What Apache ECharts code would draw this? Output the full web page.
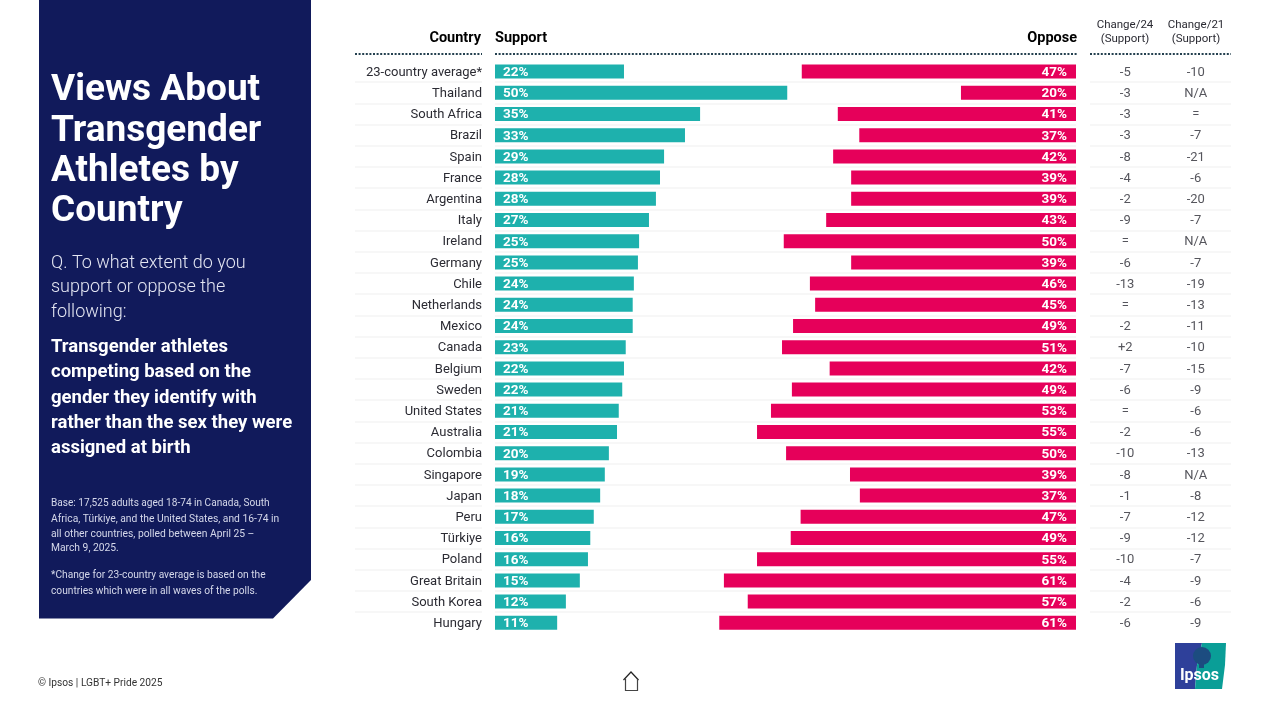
<!DOCTYPE html>
<html>
<head>
<meta charset="utf-8">
<style>html,body{margin:0;padding:0;background:#fff}#chart{width:1264px;height:706px}</style>
<script src="https://cdn.jsdelivr.net/npm/echarts@6/dist/echarts.min.js"></script>
</head>
<body>
<div id="chart"></div>
<script>
var countries = ['23-country average*','Thailand','South Africa','Brazil','Spain','France','Argentina','Italy','Ireland','Germany','Chile','Netherlands','Mexico','Canada','Belgium','Sweden','United States','Australia','Colombia','Singapore','Japan','Peru','Türkiye','Poland','Great Britain','South Korea','Hungary'];
// bar lengths, the printed labels are these rounded
var support = [22.2,50.3,35.3,32.7,29.1,28.4,27.7,26.5,24.8,24.6,23.9,23.7,23.7,22.5,22.2,21.9,21.3,21,19.6,18.9,18.1,17,16.4,16,14.6,12.2,10.7];
var oppose = [47.2,19.8,41,37.3,41.8,38.7,38.7,43,50.3,38.7,45.8,44.9,48.7,50.6,42.4,48.9,52.5,54.9,49.9,38.9,37.2,47.4,49.1,54.9,60.6,56.5,61.4];
var change24 = ['-5','-3','-3','-3','-8','-4','-2','-9','=','-6','-13','=','-2','+2','-7','-6','=','-2','-10','-8','-1','-7','-9','-10','-4','-2','-6'];
var change21 = ['-10','N/A','=','-7','-21','-6','-20','-7','N/A','-7','-19','-13','-11','-10','-15','-9','-6','-6','-13','N/A','-8','-12','-12','-7','-9','-6','-9'];
var changeCols = ['Change/24','Change/21'];

var FONT = 'Roboto';
var NAVY = '#111a5b';
var TEAL = '#1eb1ad';
var RED = '#e6005a';
var TOP = 61, ROWS_H = 572.4;

var mychart = echarts.init(document.getElementById('chart'));

function rowAxis(gridIndex, extra) {
    return Object.assign({
        type: 'category',
        gridIndex: gridIndex,
        data: countries,
        inverse: true,
        axisLine: {show: false},
        axisTick: {show: false},
        axisLabel: {show: false},
        splitLine: {show: true, showMinLine: false, showMaxLine: false, lineStyle: {color: '#f4f4f4', width: 1.5}}
    }, extra || {});
}
function hiddenValue(gridIndex, inverse) {
    return {type: 'value', gridIndex: gridIndex, min: 0, max: 100, inverse: inverse, show: false, splitLine: {show: false}};
}
function pct(p) {
    return Math.round(p.value) + '%';
}
function txt(x, y, s, size, color, weight, align) {
    return {type: 'text', x: x, y: y + 1, silent: true, style: {text: s, font: (weight || 400) + ' ' + size + 'px ' + FONT, fill: color, textAlign: align || 'left', textVerticalAlign: 'middle'}};
}
function dots(x1, x2) {
    return {type: 'line', silent: true, shape: {x1: x1, y1: 54, x2: x2, y2: 54}, style: {stroke: '#24404f', lineWidth: 2, lineDash: [2, 1.6]}};
}

var panelLines = [
    txt(51, 90, 'Views About', 37, '#fff', 700),
    txt(51, 131, 'Transgender', 37, '#fff', 700),
    txt(51, 171, 'Athletes by', 37, '#fff', 700),
    txt(51, 211, 'Country', 37, '#fff', 700),
    txt(51, 262, 'Q. To what extent do you', 18, '#e4e6f2', 300),
    txt(51, 286, 'support or oppose the', 18, '#e4e6f2', 300),
    txt(51, 311, 'following:', 18, '#e4e6f2', 300),
    txt(51, 346, 'Transgender athletes', 18.5, '#fff', 700),
    txt(51, 371, 'competing based on the', 18.5, '#fff', 700),
    txt(51, 397, 'gender they identify with', 18.5, '#fff', 700),
    txt(51, 422, 'rather than the sex they were', 18.5, '#fff', 700),
    txt(51, 447, 'assigned at birth', 18.5, '#fff', 700),
    txt(51, 502, 'Base: 17,525 adults aged 18-74 in Canada, South', 10.1, '#d5d8ea'),
    txt(51, 518, 'Africa, Türkiye, and the United States, and 16-74 in', 10.3, '#d5d8ea'),
    txt(51, 533, 'all other countries, polled between April 25 –', 10.3, '#d5d8ea'),
    txt(51, 547, 'March 9, 2025.', 10.3, '#d5d8ea'),
    txt(51, 574, '*Change for 23-country average is based on the', 10.2, '#d5d8ea'),
    txt(51, 590, 'countries which were in all waves of the polls.', 10.2, '#d5d8ea')
];

option = {
    backgroundColor: '#fff',
    animation: false,
    textStyle: {fontFamily: FONT},
    grid: [
        {left: 355, width: 127, top: TOP, height: ROWS_H},
        {left: 495, width: 581, top: TOP, height: ROWS_H},
        {left: 1090, width: 141, top: TOP, height: ROWS_H},
        // country names only, sits 1px lower than the separators
        {left: 355, width: 127, top: TOP + 1, height: ROWS_H}
    ],
    xAxis: [
        hiddenValue(0, false),
        hiddenValue(1, false),
        hiddenValue(1, true),
        {type: 'category', gridIndex: 2, data: changeCols, show: false},
        hiddenValue(3, false)
    ],
    yAxis: [
        rowAxis(0),
        rowAxis(1),
        rowAxis(2),
        rowAxis(3, {position: 'right', splitLine: {show: false}, axisLabel: {show: true, inside: true, margin: 0, align: 'right', fontFamily: FONT, fontSize: 13, color: '#2b2b33'}})
    ],
    series: [
        {
            name: 'Support', type: 'bar', xAxisIndex: 1, yAxisIndex: 1, data: support, barWidth: 14,
            itemStyle: {color: TEAL},
            label: {show: true, position: 'insideLeft', distance: 8, offset: [0, 1], formatter: pct, color: '#fff', fontWeight: 700, fontSize: 13.5, fontFamily: FONT}
        },
        {
            name: 'Oppose', type: 'bar', xAxisIndex: 2, yAxisIndex: 1, data: oppose, barWidth: 14, barGap: '-100%',
            itemStyle: {color: RED},
            label: {show: true, position: 'insideRight', distance: 9, offset: [0, 1], formatter: pct, color: '#fff', fontWeight: 700, fontSize: 13.5, fontFamily: FONT}
        },
        {
            name: changeCols[0], type: 'scatter', xAxisIndex: 3, yAxisIndex: 2, symbolSize: 0,
            data: change24.map(function (v, i) { return [0, i, v]; }),
            label: {show: true, position: 'inside', offset: [0, 1], formatter: function (p) { return p.value[2]; }, color: '#2b2b33', fontSize: 13, fontFamily: FONT}
        },
        {
            name: changeCols[1], type: 'scatter', xAxisIndex: 3, yAxisIndex: 2, symbolSize: 0,
            data: change21.map(function (v, i) { return [1, i, v]; }),
            label: {show: true, position: 'inside', offset: [0, 1], formatter: function (p) { return p.value[2]; }, color: '#2b2b33', fontSize: 13, fontFamily: FONT}
        }
    ],
    graphic: [
        {type: 'polygon', silent: true, shape: {points: [[39, 0], [311, 0], [311, 580], [273, 618.5], [39, 618.5]]}, style: {fill: NAVY}},
        dots(355, 482), dots(495, 1077), dots(1090, 1231),
        txt(481, 37, 'Country', 14.5, '#000', 700, 'right'),
        txt(495, 37, 'Support', 14.5, '#000', 700),
        txt(1077, 37, 'Oppose', 14.5, '#000', 700, 'right'),
        txt(1125, 24, 'Change/24', 11.5, '#2b2b33', 400, 'center'),
        txt(1125, 38, '(Support)', 11.5, '#2b2b33', 400, 'center'),
        txt(1196, 24, 'Change/21', 11.5, '#2b2b33', 400, 'center'),
        txt(1196, 38, '(Support)', 11.5, '#2b2b33', 400, 'center'),
        txt(38, 682, '© Ipsos | LGBT+ Pride 2025', 10.2, '#333'),
        // home icon
        {type: 'polyline', silent: true, shape: {points: [[623.5, 680], [631, 672], [638.5, 680]]}, style: {stroke: '#222', fill: 'none', lineWidth: 1.2}},
        {type: 'polyline', silent: true, shape: {points: [[625.5, 678.5], [625.5, 690.5], [637.5, 690.5], [637.5, 679]]}, style: {stroke: '#444', fill: 'none', lineWidth: 1.2}},
        // logo
        {type: 'polygon', silent: true, shape: {points: [[1175, 643], [1202, 643], [1197, 665], [1195, 689], [1175, 689]]}, style: {fill: '#2e409a'}},
        {type: 'polygon', silent: true, shape: {points: [[1202, 643], [1226, 643], [1225, 665], [1222, 689], [1195, 689], [1197, 665]]}, style: {fill: '#0a9e97'}},
        {type: 'circle', silent: true, shape: {cx: 1202, cy: 656, r: 9}, style: {fill: '#1c4c80'}},
        {type: 'rect', silent: true, shape: {x: 1199, y: 660, width: 5, height: 8}, style: {fill: '#1c4c80'}},
        txt(1199.5, 675, 'Ipsos', 16, '#fff', 700, 'center')
    ].concat(panelLines)
};
mychart.setOption(option, true);
</script>
</body>
</html>
